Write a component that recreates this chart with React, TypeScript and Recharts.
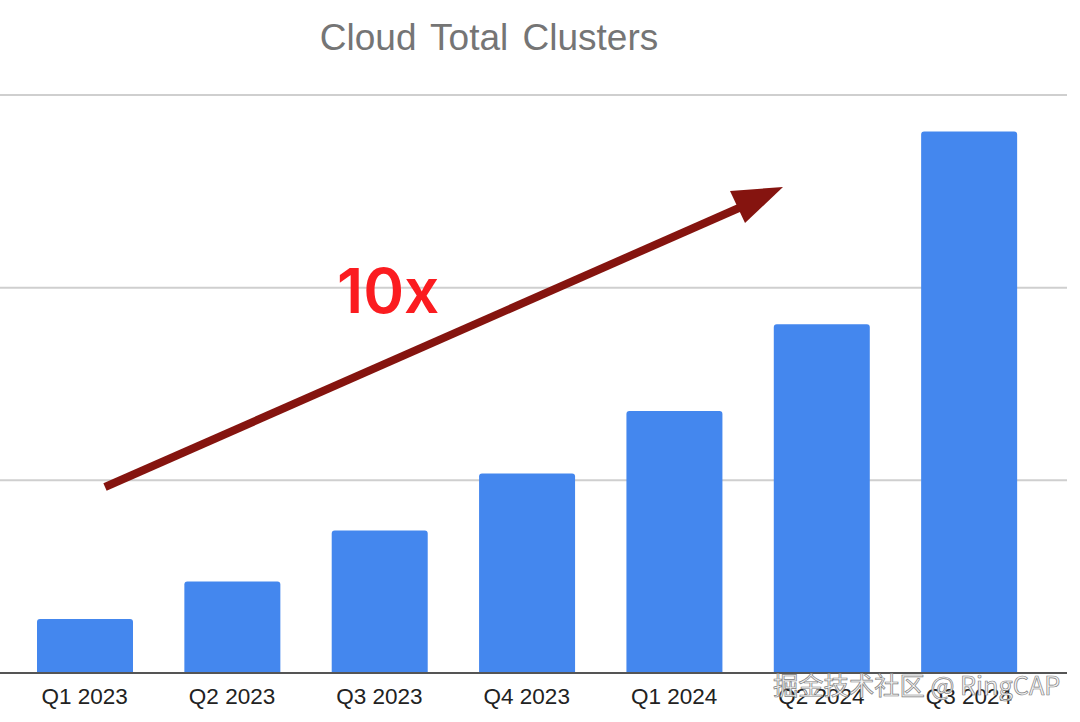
import React from "react";
import { BarChart, Bar, XAxis, YAxis, CartesianGrid } from "recharts";

const quarters = ["Q1 2023", "Q2 2023", "Q3 2023", "Q4 2023", "Q1 2024", "Q2 2024", "Q3 2024"];
const clusters = [28, 47.5, 74, 103.5, 136, 181, 281];
const yTicks = [0, 100, 200, 300];

const data = quarters.map((quarter, i) => ({ quarter, clusters: clusters[i] }));

const SANS = '"Liberation Sans", Arial, sans-serif';

export default function App() {
  return (
    <div style={{ position: "absolute", left: 0, top: 0, width: 1080, height: 722, background: "#fff" }}>
      <BarChart
        width={1080}
        height={722}
        data={data}
        margin={{ top: 95, right: 13, bottom: 0, left: 0 }}
        barCategoryGap={0}
      >
        <CartesianGrid horizontal vertical={false} stroke="#cfcfcf" strokeWidth={2} />
        <XAxis
          dataKey="quarter"
          height={49}
          padding={{ left: 11, right: 24.5 }}
          axisLine={{ stroke: "#555555", strokeWidth: 2 }}
          tickLine={false}
          tickMargin={9}
          interval={0}
          tick={{ fontSize: 22.5, fill: "#222222", fontFamily: SANS }}
        />
        <YAxis hide domain={[0, 300]} ticks={yTicks} />
        <Bar dataKey="clusters" fill="#4487ee" barSize={96} radius={[3, 3, 0, 0]} isAnimationActive={false} />
      </BarChart>

      {/* title, arrow and watermark sit on top of the chart */}
      <svg width={1080} height={722} style={{ position: "absolute", left: 0, top: 0, pointerEvents: "none" }}>
        <text x={489} y={50} textAnchor="middle" fontFamily={SANS} fontSize={37} wordSpacing={4} fill="#757575">
          Cloud Total Clusters
        </text>
        <line x1={105} y1={487} x2={748} y2={204} stroke="#85140f" strokeWidth={8} />
        <polygon points="783,187 730,191 745,223" fill="#85140f" />
        <text x={337} y={313} fontFamily="Inter, sans-serif" fontWeight={600} fontSize={62} fill="#fb1c20">
          10x
        </text>
        <text
          x={773}
          y={695}
          fontFamily='"Noto Sans CJK SC", sans-serif'
          fontSize={25.3}
          fill="#f4f4f4"
          stroke="#808080"
          strokeWidth={0.7}
        >
          掘金技术社区 @ RingCAP
        </text>
      </svg>
    </div>
  );
}
